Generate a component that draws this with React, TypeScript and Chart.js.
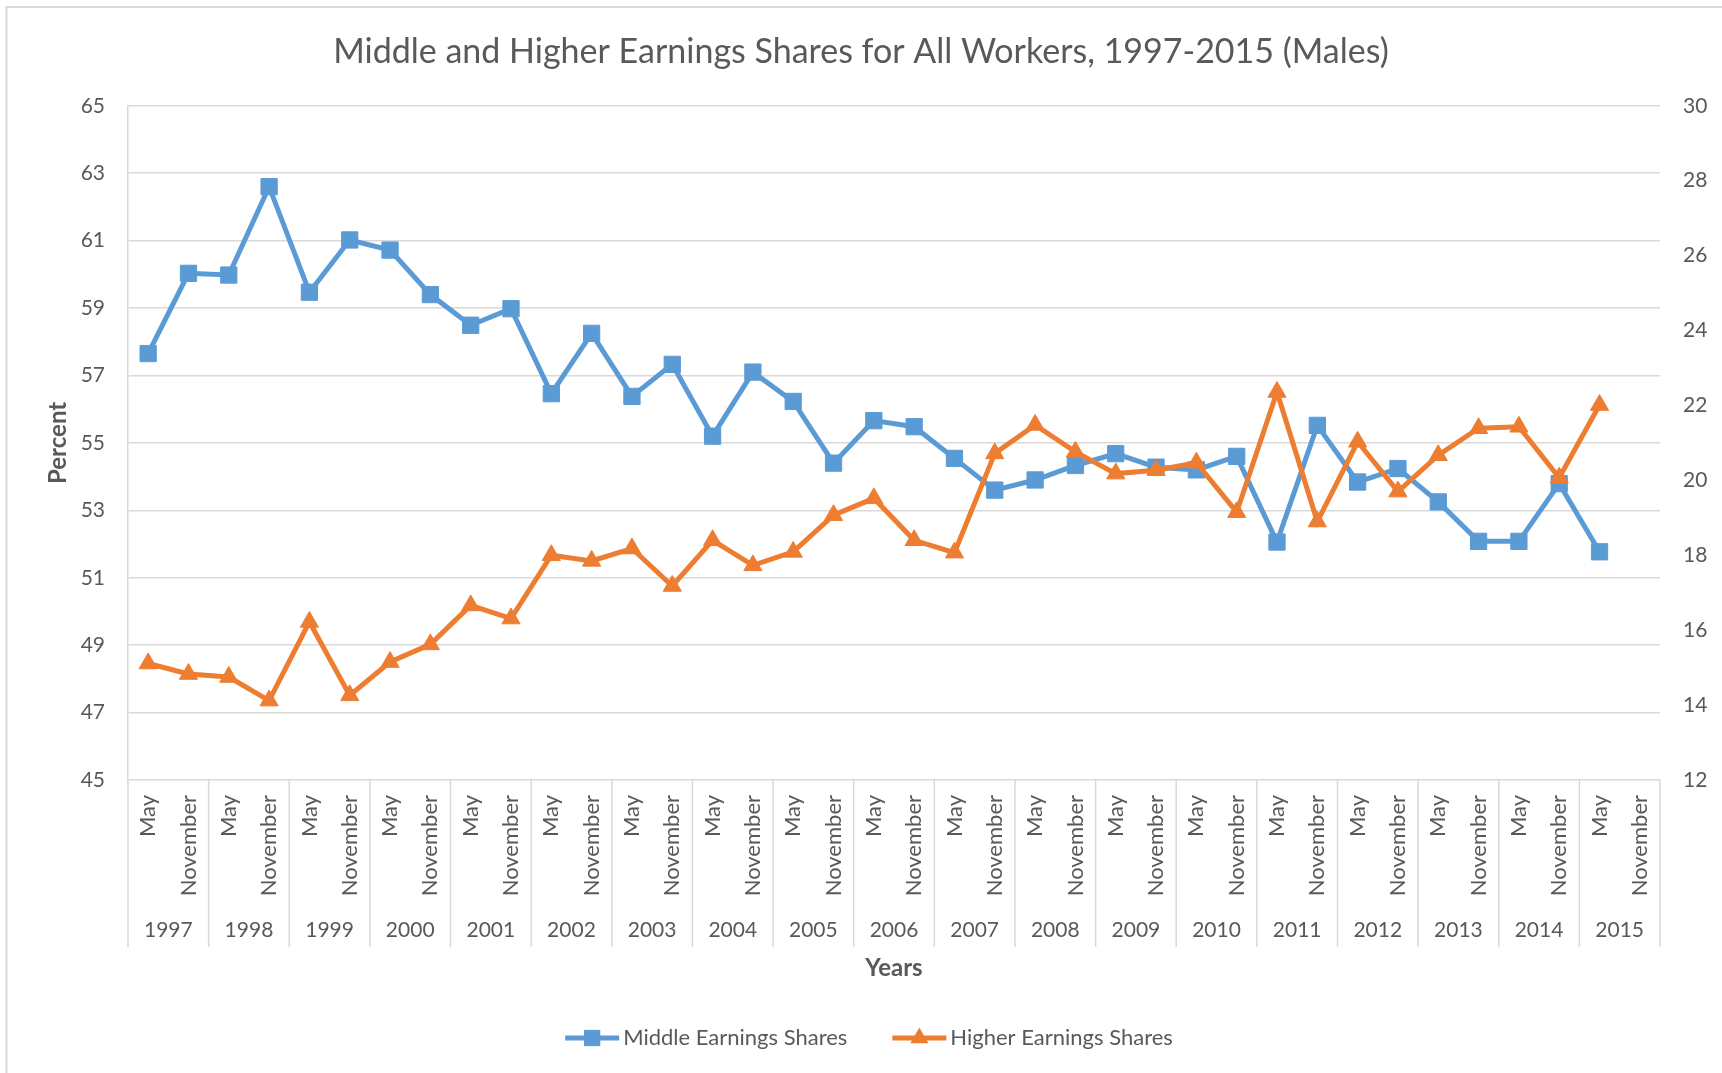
import React, { useEffect, useRef } from 'react';
import { Chart, registerables } from 'chart.js';

Chart.register(...registerables);

// ---------- data ----------
const years = ['1997', '1998', '1999', '2000', '2001', '2002', '2003', '2004', '2005', '2006',
  '2007', '2008', '2009', '2010', '2011', '2012', '2013', '2014', '2015'];
const months = ['May', 'November'];

// Middle Earnings Shares (left axis, percent)
const middleShares: (number | null)[] = [
  57.65, 60.03, 59.98, 62.60, 59.47, 61.02, 60.72, 59.40, 58.49, 58.98,
  56.46, 58.25, 56.38, 57.33, 55.20, 57.10, 56.23, 54.40, 55.66, 55.48,
  54.54, 53.60, 53.90, 54.33, 54.68, 54.28, 54.20, 54.60, 52.06, 55.52,
  53.84, 54.24, 53.25, 52.08, 52.08, 53.79, 51.77, null,
];

// Higher Earnings Shares (right axis, percent)
const higherShares: (number | null)[] = [
  15.11, 14.83, 14.75, 14.12, 16.22, 14.26, 15.15, 15.62, 16.66, 16.31,
  18.00, 17.85, 18.18, 17.18, 18.40, 17.73, 18.09, 19.07, 19.52, 18.40,
  18.07, 20.72, 21.48, 20.76, 20.18, 20.27, 20.47, 19.15, 22.36, 18.90,
  21.03, 19.70, 20.67, 21.39, 21.43, 20.07, 22.01, null,
];

const leftAxis = { min: 45, max: 65, step: 2 };
const rightAxis = { min: 12, max: 30, step: 2 };

const titleText = 'Middle and Higher Earnings Shares for All Workers, 1997-2015 (Males)';
const seriesNames = ['Middle Earnings Shares', 'Higher Earnings Shares'];

// ---------- styles ----------
const TEXT = '#595959';
const GRID = '#D9D9D9';
const BLUE = '#5B9BD5';
const ORANGE = '#ED7D31';
const FONT = 'Lato, "Open Sans", sans-serif';

const labels = years.flatMap(() => months.map((m) => m));

const excelPlugin = {
  id: 'excelExtras',
  afterDraw(chart: any) {
    const ctx = chart.ctx as CanvasRenderingContext2D;
    const x = chart.scales.x;
    const area = chart.chartArea;
    ctx.save();

    // chart border
    ctx.strokeStyle = GRID;
    ctx.lineWidth = 2;
    ctx.beginPath();
    ctx.moveTo(6.5, chart.height);
    ctx.lineTo(6.5, 7);
    ctx.lineTo(chart.width, 7);
    ctx.stroke();

    // multi-level category separators
    const half = (x.getPixelForValue(1) - x.getPixelForValue(0)) / 2;
    ctx.lineWidth = 1.5;
    for (let j = 0; j <= years.length; j++) {
      const px = j < years.length
        ? x.getPixelForValue(2 * j) - half
        : x.getPixelForValue(2 * j - 1) + half;
      ctx.beginPath();
      ctx.moveTo(px, area.bottom);
      ctx.lineTo(px, area.bottom + 167);
      ctx.stroke();
    }

    // year labels
    ctx.fillStyle = TEXT;
    ctx.font = `21px ${FONT}`;
    ctx.textAlign = 'center';
    ctx.textBaseline = 'middle';
    years.forEach((yr, j) => {
      const cx = (x.getPixelForValue(2 * j) + x.getPixelForValue(2 * j + 1)) / 2;
      ctx.fillText(yr, cx, area.bottom + 150);
    });

    // legend
    const ly = 1038;
    const lineLen = 54;
    const gapText = 4;
    const gapItems = 45;
    ctx.font = `22px ${FONT}`;
    const w0 = ctx.measureText(seriesNames[0]).width;
    const w1 = ctx.measureText(seriesNames[1]).width;
    const total = lineLen + gapText + w0 + gapItems + lineLen + gapText + w1;
    let lx = 869 - total / 2;
    const items = [
      { color: BLUE, style: 'rect', r: 11.5, w: w0, name: seriesNames[0] },
      { color: ORANGE, style: 'triangle', r: 10.5, w: w1, name: seriesNames[1] },
    ];
    items.forEach((it) => {
      ctx.strokeStyle = it.color;
      ctx.lineWidth = 5;
      ctx.beginPath();
      ctx.moveTo(lx, ly);
      ctx.lineTo(lx + lineLen, ly);
      ctx.stroke();
      ctx.fillStyle = it.color;
      const cx = lx + lineLen / 2;
      ctx.beginPath();
      if (it.style === 'rect') {
        const s = it.r * Math.SQRT1_2;
        ctx.rect(cx - s, ly - s, 2 * s, 2 * s);
      } else {
        const r = it.r;
        ctx.moveTo(cx, ly - r);
        ctx.lineTo(cx + r * Math.sin((2 * Math.PI) / 3), ly + r / 2);
        ctx.lineTo(cx - r * Math.sin((2 * Math.PI) / 3), ly + r / 2);
        ctx.closePath();
      }
      ctx.fill();
      ctx.fillStyle = TEXT;
      ctx.textAlign = 'left';
      ctx.textBaseline = 'middle';
      ctx.fillText(it.name, lx + lineLen + gapText, ly);
      lx += lineLen + gapText + it.w + gapItems;
    });

    ctx.restore();
  },
};

export default function App() {
  const ref = useRef<HTMLCanvasElement | null>(null);

  useEffect(() => {
    if (!ref.current) return;
    const chart = new Chart(ref.current, {
      type: 'line',
      data: {
        labels,
        datasets: [
          {
            label: seriesNames[0],
            data: middleShares,
            yAxisID: 'y',
            order: 1,
            borderColor: BLUE,
            backgroundColor: BLUE,
            borderWidth: 5,
            pointStyle: 'rect',
            pointRadius: 11.5,
            pointBorderWidth: 1,
            pointBackgroundColor: BLUE,
            pointBorderColor: BLUE,
            tension: 0,
          },
          {
            label: seriesNames[1],
            data: higherShares,
            yAxisID: 'y1',
            order: 0,
            borderColor: ORANGE,
            backgroundColor: ORANGE,
            borderWidth: 5,
            pointStyle: 'triangle',
            pointRadius: 10.5,
            pointBorderWidth: 1,
            pointBackgroundColor: ORANGE,
            pointBorderColor: ORANGE,
            tension: 0,
          },
        ],
      },
      options: {
        responsive: false,
        animation: false,
        devicePixelRatio: 1,
        layout: { padding: { top: 0, left: 0, right: 0, bottom: 90 } },
        plugins: {
          legend: { display: false },
          tooltip: { enabled: false },
          title: {
            display: true,
            text: titleText,
            color: TEXT,
            font: { family: FONT, size: 34, weight: 'normal' },
            padding: { top: 32, bottom: 33 },
          },
        },
        scales: {
          x: {
            type: 'category',
            offset: true,
            grid: { display: false, drawTicks: false },
            border: { display: false },
            ticks: {
              autoSkip: false,
              maxRotation: 90,
              minRotation: 90,
              padding: 15,
              color: TEXT,
              font: { family: FONT, size: 22 },
            },
            title: {
              display: true,
              text: 'Years',
              color: TEXT,
              font: { family: FONT, size: 24, weight: 'bold' },
              padding: { top: 0, bottom: 0 },
            },
            afterFit: (s: any) => { s.height = 203; },
          },
          y: {
            position: 'left',
            min: leftAxis.min,
            max: leftAxis.max,
            ticks: {
              stepSize: leftAxis.step,
              padding: 23,
              color: TEXT,
              font: { family: FONT, size: 21 },
            },
            grid: { color: GRID, lineWidth: 1.5, drawTicks: false },
            border: { display: true, color: GRID, width: 1.5 },
            title: {
              display: true,
              text: 'Percent',
              color: TEXT,
              font: { family: FONT, size: 24, weight: 'bold' },
              padding: { top: 44, bottom: 0 },
            },
            afterFit: (s: any) => { s.width = 128; },
          },
          y1: {
            position: 'right',
            min: rightAxis.min,
            max: rightAxis.max,
            ticks: {
              stepSize: rightAxis.step,
              padding: 23,
              color: TEXT,
              font: { family: FONT, size: 21 },
            },
            grid: { drawOnChartArea: false, drawTicks: false },
            border: { display: false },
            afterFit: (s: any) => { s.width = 62; },
          },
        },
      },
      plugins: [excelPlugin],
    });
    return () => chart.destroy();
  }, []);

  return (
    <div style={{ position: 'absolute', left: 0, top: 0, width: 1722, height: 1073, background: '#fff' }}>
      <canvas ref={ref} width={1722} height={1073} style={{ width: 1722, height: 1073, display: 'block' }} />
    </div>
  );
}
